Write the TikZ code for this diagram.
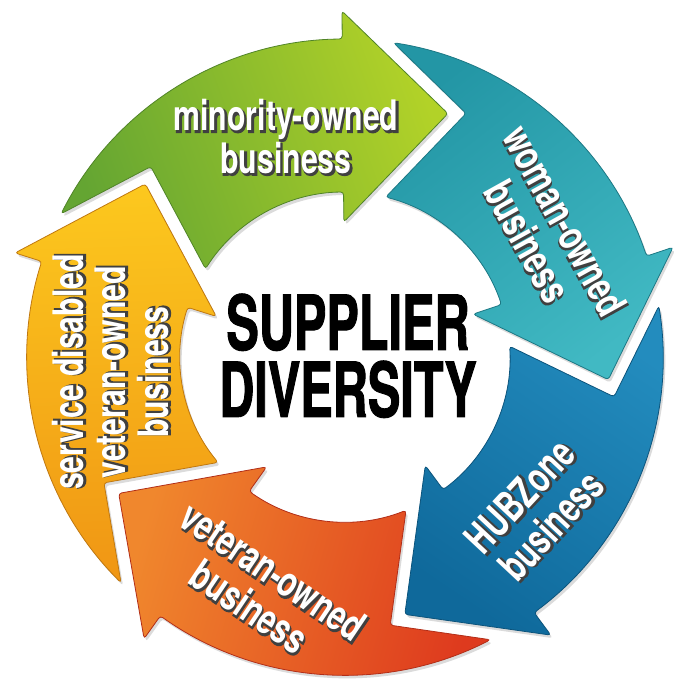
\documentclass[tikz,border=0pt]{standalone}
\usepackage{fontspec}
\newfontfamily\lblf[FakeStretch=0.72]{TeX Gyre Heros}
\newfontfamily\lblout[FakeStretch=0.72,FakeBold=4]{TeX Gyre Heros}
\newfontfamily\ctrf[FakeStretch=0.64,FakeBold=1.2]{TeX Gyre Heros}
\definecolor{grTail}{RGB}{100,165,50}
\definecolor{grHead}{RGB}{178,210,40}
\definecolor{tlTail}{RGB}{35,150,165}
\definecolor{tlHead}{RGB}{65,185,195}
\definecolor{buTail}{RGB}{35,140,190}
\definecolor{buHead}{RGB}{15,105,155}
\definecolor{orTail}{RGB}{222,58,30}
\definecolor{orHead}{RGB}{240,135,45}
\definecolor{yeTail}{RGB}{240,150,20}
\definecolor{yeHead}{RGB}{252,200,30}
% #1 = path options, #2 = rotation (head base angle - 90)
\newcommand\arrowpath[2]{%
  \path[#1] ({#2+152.73}:318) arc[start angle={#2+152.73}, end angle={#2+90}, radius=318]
    -- ({#2+90}:346) -- ({#2+66.58}:264.26) -- ({#2+90}:135) -- ({#2+90}:165)
    arc[start angle={#2+90}, end angle={#2+147.21}, radius=165]
    -- ({#2+135.07}:272) -- cycle;}
\newcommand\lbltext[1]{%
  \rlap{\kern1.3pt\raisebox{-1.3pt}{\color{black!75}\lblout\bfseries\begin{tabular}{@{}c@{}}#1\end{tabular}}}%
  {\color{white}\lblf\bfseries\begin{tabular}{@{}c@{}}#1\end{tabular}}}
\begin{document}
\begin{tikzpicture}[x=1pt,y=1pt,
  arrowbody/.style={draw=#1!80!black, line width=0.8pt, rounded corners=3pt},
  arrowshadow/.style={fill=black!14, rounded corners=3pt, xshift=2pt, yshift=-3pt},
  lbl/.style={inner sep=0pt, font=\fontsize{42}{38}\selectfont},
  ctr/.style={inner sep=0pt, anchor=base, font=\fontsize{76}{68}\selectfont\ctrf\bfseries, text=black}]
\fill[white] (0,0) rectangle (700,700);
\useasboundingbox (0,0) rectangle (700,700);
\begin{scope}[shift={(345,343)}]
  % shadows
  \arrowpath{arrowshadow}{0.5}
  \arrowpath{arrowshadow}{-71.5}
  \arrowpath{arrowshadow}{-143.5}
  \arrowpath{arrowshadow}{-215.5}
  \arrowpath{arrowshadow}{72.5}
  % arrows
  \arrowpath{arrowbody=grTail, top color=grHead, bottom color=grTail, shading angle=-70}{0.5}
  \arrowpath{arrowbody=tlTail, top color=tlHead, bottom color=tlTail, shading angle=-142}{-71.5}
  \arrowpath{arrowbody=buHead, top color=buHead, bottom color=buTail, shading angle=146}{-143.5}
  \arrowpath{arrowbody=orTail, top color=orHead, bottom color=orTail, shading angle=74}{-215.5}
  \arrowpath{arrowbody=yeTail, top color=yeHead, bottom color=yeTail, shading angle=2}{72.5}
\end{scope}
% labels
\node[lbl] (minority) at (286,557) {\lbltext{minority-owned\\business}};
\node[lbl, rotate=-61] (woman) at (541,466) {\lbltext{woman-owned\\business}};
\node[lbl, rotate=47] (hubzone) at (540,185) {\lbltext{HUBZone\\business}};
\node[lbl, rotate=-34] (veteran) at (258,106) {\lbltext{veteran-owned\\business}};
\node[lbl, rotate=90] (service) at (117,328) {\lbltext{service disabled\\veteran-owned\\business}};
% centre title
\node[ctr] (supplier) at (348,350) {SUPPLIER};
\node[ctr] (diversity) at (348,283) {DIVERSITY};
\end{tikzpicture}
\end{document}
